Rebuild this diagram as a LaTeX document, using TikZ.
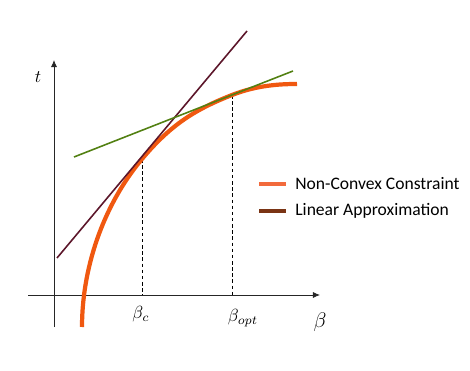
\documentclass[tikz,border=0pt]{standalone}
\usepackage{fontspec}
\setsansfont{Carlito}
\usepackage{tikz}
\usetikzlibrary{arrows.meta,calc}
\definecolor{curveorange}{RGB}{240,88,16}
\definecolor{legorange}{RGB}{242,106,60}
\definecolor{tanmaroon}{RGB}{92,22,42}
\definecolor{legbrown}{RGB}{122,52,20}
\definecolor{tangreen}{RGB}{82,128,18}

\begin{document}
\begin{tikzpicture}[x=0.02cm,y=-0.02cm,>={Latex[length=4pt,width=3.5pt]}]
    \useasboundingbox (0,0) rectangle (470,371);
    % axes
    \draw[->,line width=0.5pt,black!85] (28,295)--(320,295);
    \draw[->,line width=0.5pt,black!85] (54,327)--(54,60);
    \node (tlab) at (38,77) {$t$};
    \node (blab) at (320,322) {\large $\beta$};
    % tangent points
    \coordinate (bc) at (142,159);
    \coordinate (bo) at (232,95);
    \coordinate (bcx) at (142,295);
    \coordinate (box) at (232,295);
    \draw[dash pattern=on 2pt off 1.5pt,line width=0.35pt] (bc)--(bcx);
    \draw[dash pattern=on 2pt off 1.5pt,line width=0.35pt] (bo)--(box);
    \node (bclab) at (141,314) {$\beta_c$};
    \node (bolab) at (243,318) {$\beta_{opt}$};
    % constraint curve
    \draw[curveorange,line width=2.4pt] (82,327) .. controls (82,270) and (102,206.8) .. (bc)
        .. controls (172,123.2) and (197,108.8) .. (bo)
        .. controls (257,85.2) and (280,84) .. (297,84);
    % linear approximations
    \draw[tanmaroon,line width=0.9pt] (57,258)--(247,31);
    \draw[tangreen,line width=0.9pt] (74,157)--(293,71);
    % legend
    \foreach \y/\col/\txt/\nm in {184/legorange/Non-Convex Constraint/lega,211/legbrown/Linear Approximation/legb}{
        \draw[\col,line width=1.8pt] (259,\y)--(286,\y);
        \node[anchor=west,inner sep=0pt,font=\sffamily] (\nm) at (295,\y) {\txt};
    }
\end{tikzpicture}
\end{document}
